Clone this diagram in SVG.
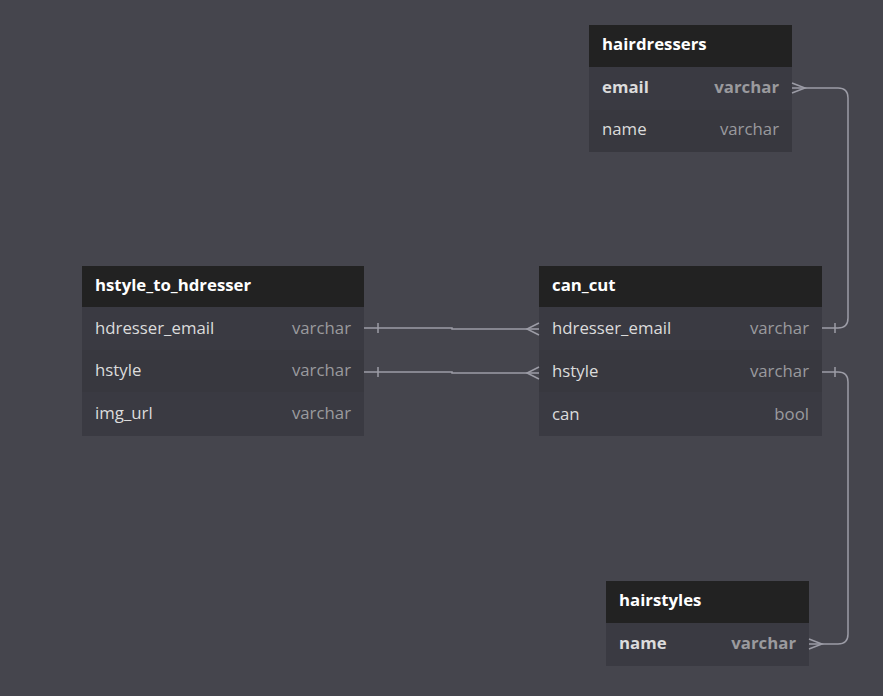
<svg xmlns="http://www.w3.org/2000/svg" width="883" height="696" viewBox="0 0 883 696">
<style>
.hdr{fill:#222222}
.r1{fill:#3a3a42}
.r2{fill:#38383f}
.t{font-family:"Open Sans","Liberation Sans",sans-serif;font-size:16.8px}
.h{fill:#ffffff;font-weight:bold}
.n{fill:#dcdcdc}
.y{fill:#9a9a9e;text-anchor:end}
.b{font-weight:bold}
.c{fill:none;stroke:#9c9ca6;stroke-width:1.5}
</style>
<rect width="883" height="696" fill="#45454d"/>
<g id="hairdressers">
<rect class="hdr" x="589" y="25" width="203" height="42"/>
<rect class="r1" x="589" y="67" width="203" height="43"/>
<rect class="r2" x="589" y="110" width="203" height="42"/>
<text class="t h" x="602" y="50">hairdressers</text>
<text class="t n b" x="602" y="93">email</text>
<text class="t y b" x="779" y="93">varchar</text>
<text class="t n" x="602" y="135">name</text>
<text class="t y" x="779" y="135">varchar</text>
</g>
<g id="hstyle_to_hdresser">
<rect class="hdr" x="82" y="266" width="282" height="41"/>
<rect class="r1" x="82" y="307" width="282" height="43"/>
<rect class="r2" x="82" y="350" width="282" height="42"/>
<rect class="r1" x="82" y="392" width="282" height="44"/>
<text class="t h" x="95" y="291">hstyle_to_hdresser</text>
<text class="t n" x="95" y="334">hdresser_email</text>
<text class="t y" x="351" y="334">varchar</text>
<text class="t n" x="95" y="376">hstyle</text>
<text class="t y" x="351" y="376">varchar</text>
<text class="t n" x="95" y="419">img_url</text>
<text class="t y" x="351" y="419">varchar</text>
</g>
<g id="can_cut">
<rect class="hdr" x="539" y="266" width="283" height="41"/>
<rect class="r1" x="539" y="307" width="283" height="43"/>
<rect class="r2" x="539" y="350" width="283" height="42"/>
<rect class="r1" x="539" y="392" width="283" height="44"/>
<text class="t h" x="552" y="291">can_cut</text>
<text class="t n" x="552" y="334">hdresser_email</text>
<text class="t y" x="809" y="334">varchar</text>
<text class="t n" x="552" y="377">hstyle</text>
<text class="t y" x="809" y="377">varchar</text>
<text class="t n" x="552" y="420">can</text>
<text class="t y" x="809" y="420">bool</text>
</g>
<g id="hairstyles">
<rect class="hdr" x="606" y="581" width="203" height="42"/>
<rect class="r1" x="606" y="623" width="203" height="43"/>
<text class="t h" x="619" y="606">hairstyles</text>
<text class="t n b" x="619" y="649">name</text>
<text class="t y b" x="796" y="649">varchar</text>
</g>
<g id="connectors">
<path class="c" d="M364,328 L452,328 L452,329 L539,329"/>
<path class="c" d="M378,323 L378,333"/>
<path class="c" d="M539,323 L527,329 L539,335"/>
<path class="c" d="M364,372 L452,372 L452,373 L539,373"/>
<path class="c" d="M378,367 L378,377"/>
<path class="c" d="M539,367 L527,373 L539,379"/>
<path class="c" d="M822,328 L838,328 Q848,328 848,318 L848,98 Q848,88 838,88 L792,88"/>
<path class="c" d="M835,323 L835,333"/>
<path class="c" d="M792,83 L805,88 L792,93"/>
<path class="c" d="M822,372 L838,372 Q848,372 848,382 L848,634 Q848,644 838,644 L809,644"/>
<path class="c" d="M835,367 L835,377"/>
<path class="c" d="M809,639 L822,644 L809,649"/>
</g>
</svg>
